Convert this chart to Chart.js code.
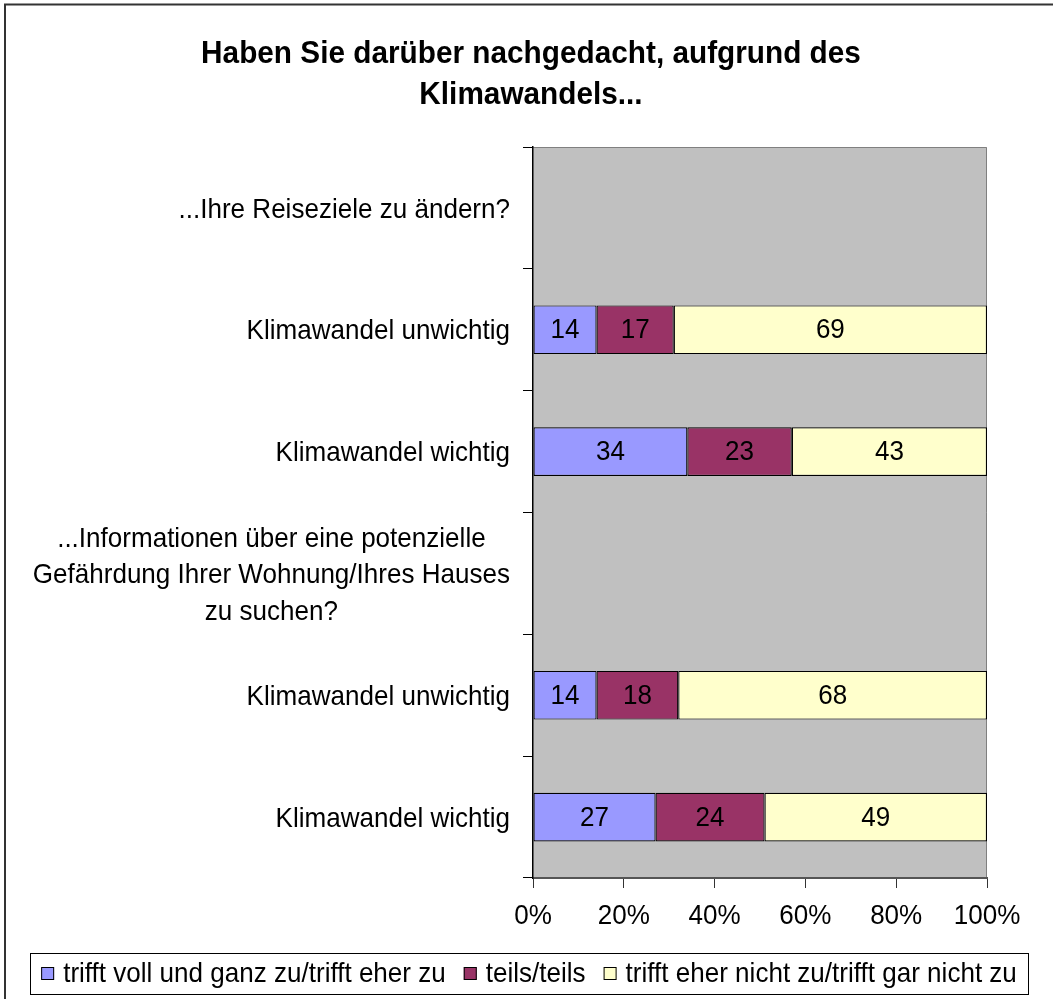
<!DOCTYPE html>
<html>
<head>
<meta charset="utf-8">
<script src="https://cdn.jsdelivr.net/npm/chart.js@4/dist/chart.umd.min.js"></script>
<style>
  html, body { margin: 0; padding: 0; background: #fff; }
  #wrap { width: 1053px; height: 999px; }
</style>
</head>
<body>
<div id="wrap"><canvas id="c" width="1053" height="999"></canvas></div>
<script>
// Survey: "Haben Sie darüber nachgedacht, aufgrund des Klimawandels..."
const titleLines = ['Haben Sie darüber nachgedacht, aufgrund des', 'Klimawandels...'];

const categories = [
  ['...Ihre Reiseziele zu ändern?'],
  ['Klimawandel unwichtig'],
  ['Klimawandel wichtig'],
  ['...Informationen über eine potenzielle', 'Gefährdung Ihrer Wohnung/Ihres Hauses', 'zu suchen?'],
  ['Klimawandel unwichtig'],
  ['Klimawandel wichtig']
];

const seriesNames = [
  'trifft voll und ganz zu/trifft eher zu',
  'teils/teils',
  'trifft eher nicht zu/trifft gar nicht zu'
];

// Shares in percent; question header rows carry no bars
const zustimmung = [null, 14, 34, null, 14, 27];
const teils      = [null, 17, 23, null, 18, 24];
const ablehnung  = [null, 69, 43, null, 68, 49];

const xTickValues = [0, 20, 40, 60, 80, 100];
const xTickLabels = ['0%', '20%', '40%', '60%', '80%', '100%'];

const seriesColors = ['#9999FF', '#993366', '#FFFFCC'];

// Text in this chart is set slightly condensed
const SQUEEZE = 0.93;
const FONT = '"Liberation Sans", Arial, sans-serif';

function drawText(ctx, text, x, y, align) {
  ctx.save();
  ctx.translate(x, y);
  ctx.scale(SQUEEZE, 1);
  ctx.textAlign = align;
  ctx.fillText(text, 0, 0);
  ctx.restore();
}
function textWidth(ctx, text) {
  return ctx.measureText(text).width * SQUEEZE;
}

const frameAndBackground = {
  id: 'frameAndBackground',
  beforeDraw(chart) {
    const ctx = chart.ctx;
    const a = chart.chartArea;
    ctx.save();
    ctx.fillStyle = '#fff';
    ctx.fillRect(0, 0, chart.width, chart.height);
    // outer chart frame
    ctx.strokeStyle = '#333';
    ctx.lineWidth = 2;
    ctx.strokeRect(5, 4.5, 1100, 1100);
    // plot area
    ctx.fillStyle = '#C0C0C0';
    ctx.fillRect(a.left, a.top, a.right - a.left, a.bottom - a.top);
    ctx.strokeStyle = '#808080';
    ctx.lineWidth = 1;
    ctx.beginPath();
    ctx.moveTo(a.left, a.top + 0.5);
    ctx.lineTo(a.right - 0.5, a.top + 0.5);
    ctx.lineTo(a.right - 0.5, a.bottom);
    ctx.stroke();
    ctx.restore();
  }
};

const textLayer = {
  id: 'textLayer',
  afterDraw(chart) {
    const ctx = chart.ctx;
    const xs = chart.scales.x;
    const ys = chart.scales.y;
    ctx.save();
    ctx.fillStyle = '#000';
    ctx.textBaseline = 'alphabetic';

    // title
    ctx.font = 'bold 32px ' + FONT;
    drawText(ctx, titleLines[0], 531, 63, 'center');
    drawText(ctx, titleLines[1], 531, 104, 'center');

    ctx.font = '28px ' + FONT;
    ctx.textBaseline = 'middle';

    // category labels: each block right-aligned to the axis, lines centred within it
    const lineH = 36.5;
    const rightEdge = ys.right - 23;
    categories.forEach((lines, i) => {
      const cy = ys.getPixelForTick(i);
      const w = Math.max(...lines.map(l => textWidth(ctx, l)));
      const cx = rightEdge - w / 2;
      lines.forEach((l, j) => {
        drawText(ctx, l, cx, cy + (j - (lines.length - 1) / 2) * lineH + 2, 'center');
      });
    });

    // value axis labels
    xTickValues.forEach((v, i) => {
      drawText(ctx, xTickLabels[i], xs.getPixelForValue(v), xs.top + 38, 'center');
    });

    // segment value labels
    chart.data.datasets.forEach((ds, di) => {
      const meta = chart.getDatasetMeta(di);
      meta.data.forEach((el, k) => {
        const v = ds.data[k];
        if (v === null || v === undefined) return;
        drawText(ctx, String(v), (el.base + el.x) / 2, el.y + 1, 'center');
      });
    });

    // legend
    const box = { left: 30, top: 953, right: 1028, bottom: 994 };
    const sq = 13, gapSq = 9, gapItem = 18;
    const widths = seriesNames.map(n => textWidth(ctx, n));
    const total = widths.reduce((s, w) => s + w, 0) + seriesNames.length * (sq + gapSq) + (seriesNames.length - 1) * gapItem;
    let lx = (box.left + box.right) / 2 - total / 2;
    const ly = (box.top + box.bottom) / 2;
    ctx.strokeStyle = '#000';
    ctx.lineWidth = 1;
    ctx.fillStyle = '#fff';
    ctx.fillRect(box.left, box.top, box.right - box.left, box.bottom - box.top);
    ctx.strokeRect(box.left + 0.5, box.top + 0.5, box.right - box.left, box.bottom - box.top);
    seriesNames.forEach((n, i) => {
      ctx.fillStyle = seriesColors[i];
      ctx.fillRect(lx, ly - sq / 2, sq, sq);
      ctx.strokeStyle = '#000';
      ctx.strokeRect(lx + 0.5, ly - sq / 2 + 0.5, sq - 1, sq - 1);
      ctx.fillStyle = '#000';
      drawText(ctx, n, lx + sq + gapSq, ly + 1, 'left');
      lx += sq + gapSq + widths[i] + gapItem;
    });
    ctx.restore();
  }
};

const barStyle = {
  borderColor: '#000',
  borderWidth: 1.2,
  borderSkipped: false,
  barPercentage: 0.4,
  categoryPercentage: 1.0
};

new Chart(document.getElementById('c'), {
  type: 'bar',
  data: {
    labels: categories,
    datasets: [
      Object.assign({ label: seriesNames[0], data: zustimmung, backgroundColor: seriesColors[0] }, barStyle),
      Object.assign({ label: seriesNames[1], data: teils, backgroundColor: seriesColors[1] }, barStyle),
      Object.assign({ label: seriesNames[2], data: ablehnung, backgroundColor: seriesColors[2] }, barStyle)
    ]
  },
  options: {
    responsive: false,
    animation: false,
    devicePixelRatio: 1,
    indexAxis: 'y',
    layout: { padding: { left: 0, right: 66, top: 147, bottom: 0 } },
    plugins: {
      legend: { display: false },
      title: { display: false },
      tooltip: { enabled: false }
    },
    scales: {
      x: {
        stacked: true,
        min: 0,
        max: 100,
        afterBuildTicks(scale) { scale.ticks = xTickValues.map(v => ({ value: v })); },
        ticks: { display: false },
        grid: { drawOnChartArea: false, drawTicks: true, tickLength: 10, color: '#333', tickColor: '#333' },
        border: { display: true, color: '#555', width: 2 },
        afterFit(scale) { scale.height = 121; }
      },
      y: {
        stacked: true,
        ticks: { display: false },
        grid: { offset: true, drawOnChartArea: false, drawTicks: true, tickLength: 10, color: '#000', tickColor: '#000' },
        border: { display: true, color: '#000', width: 1.5 },
        afterFit(scale) { scale.width = 533; }
      }
    }
  },
  plugins: [frameAndBackground, textLayer]
});
</script>
</body>
</html>
